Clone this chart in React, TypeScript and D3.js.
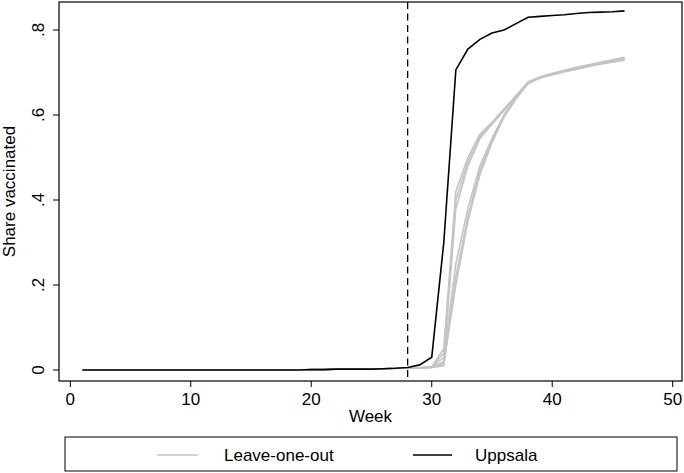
import * as d3 from 'd3';

const weeks = d3.range(1, 47);

// weeks 1-27, shared by all series (lines overlap before the cutoff)
const early = [
  0, 0, 0, 0, 0, 0, 0, 0, 0, 0, 0, 0, 0, 0, 0, 0, 0, 0, 0, 0.001, 0.001, 0.002,
  0.002, 0.002, 0.002, 0.003, 0.004,
];

// weeks 28-46
const uppsalaLate = [
  0.006, 0.012, 0.03, 0.3, 0.706, 0.755, 0.778, 0.793, 0.8, 0.815, 0.83, 0.832,
  0.834, 0.836, 0.839, 0.841, 0.842, 0.843, 0.845,
];

const leaveOneOutLate = [
  [0.004, 0.005, 0.007, 0.04, 0.4, 0.49, 0.55, 0.58, 0.612, 0.645, 0.677, 0.688, 0.695, 0.702, 0.708, 0.714, 0.72, 0.725, 0.73],
  [0.004, 0.005, 0.006, 0.02, 0.38, 0.48, 0.545, 0.578, 0.61, 0.643, 0.676, 0.689, 0.697, 0.704, 0.71, 0.716, 0.722, 0.727, 0.733],
  [0.004, 0.005, 0.008, 0.05, 0.42, 0.5, 0.555, 0.583, 0.614, 0.646, 0.678, 0.69, 0.698, 0.705, 0.712, 0.718, 0.724, 0.73, 0.736],
  [0.004, 0.005, 0.006, 0.01, 0.22, 0.36, 0.47, 0.54, 0.598, 0.64, 0.675, 0.688, 0.696, 0.703, 0.709, 0.715, 0.721, 0.726, 0.731],
  [0.004, 0.005, 0.007, 0.03, 0.25, 0.38, 0.48, 0.545, 0.6, 0.642, 0.676, 0.689, 0.697, 0.704, 0.71, 0.716, 0.722, 0.728, 0.734],
  [0.004, 0.005, 0.006, 0.015, 0.2, 0.35, 0.46, 0.535, 0.595, 0.638, 0.674, 0.687, 0.695, 0.702, 0.708, 0.714, 0.72, 0.725, 0.729],
];

const xTicks = [0, 10, 20, 30, 40, 50];
const yTicks = [0, 0.2, 0.4, 0.6, 0.8];
const yTickLabels = ['0', '.2', '.4', '.6', '.8'];
const cutoffWeek = 28;

const W = 684;
const H = 473;
const frame = { left: 59, right: 682, top: 2, bottom: 381 };
const font = 'Arial, "Liberation Sans", sans-serif';
const fs = 17;

export default function App() {
  const x = d3.scaleLinear([0, 50], [70.3, 672.7]);
  const y = d3.scaleLinear([0, 0.8], [370, 30]);

  const line = d3
    .line<number>()
    .x((_, i) => x(weeks[i]))
    .y((d) => y(d));

  const uppsala = [...early, ...uppsalaLate];
  const loo = leaveOneOutLate.map((s) => [...early, ...s]);

  return (
    <svg
      width={W}
      height={H}
      style={{ position: 'absolute', left: 0, top: 0, background: '#fff' }}
      fontFamily={font}
    >
      <rect x={0} y={0} width={W} height={H} fill='#fff' />

      {loo.map((s, i) => (
        <path key={i} d={line(s) ?? ''} fill='none' stroke='#c4c4c4' strokeWidth={1.6} />
      ))}
      <path d={line(uppsala) ?? ''} fill='none' stroke='#000' strokeWidth={1.6} />

      <line
        x1={x(cutoffWeek)}
        x2={x(cutoffWeek)}
        y1={frame.top}
        y2={frame.bottom}
        stroke='#000'
        strokeWidth={1.3}
        strokeDasharray='7,4.5'
      />

      <rect
        x={frame.left}
        y={frame.top}
        width={frame.right - frame.left}
        height={frame.bottom - frame.top}
        fill='none'
        stroke='#000'
        strokeWidth={1.2}
      />

      {/* x axis */}
      {xTicks.map((t) => (
        <g key={t}>
          <line x1={x(t)} x2={x(t)} y1={frame.bottom} y2={frame.bottom + 6} stroke='#000' />
          <text x={x(t)} y={frame.bottom + 24} textAnchor='middle' fontSize={fs}>
            {t}
          </text>
        </g>
      ))}
      <text x={(frame.left + frame.right) / 2} y={422} textAnchor='middle' fontSize={fs}>
        Week
      </text>

      {/* y axis */}
      {yTicks.map((t, i) => (
        <g key={t}>
          <line x1={frame.left - 6} x2={frame.left} y1={y(t)} y2={y(t)} stroke='#000' />
          <text
            transform={`translate(${frame.left - 15},${y(t)}) rotate(-90)`}
            textAnchor='middle'
            fontSize={fs}
          >
            {yTickLabels[i]}
          </text>
        </g>
      ))}
      <text
        transform={`translate(15,${(frame.top + frame.bottom) / 2}) rotate(-90)`}
        textAnchor='middle'
        fontSize={fs}
      >
        Share vaccinated
      </text>

      {/* legend */}
      <rect x={65} y={437} width={612} height={34} fill='#fff' stroke='#000' strokeWidth={1} />
      <line x1={157} x2={198} y1={455} y2={455} stroke='#c4c4c4' strokeWidth={1.6} />
      <text x={224} y={461} fontSize={fs}>
        Leave-one-out
      </text>
      <line x1={413} x2={452} y1={455} y2={455} stroke='#000' strokeWidth={1.6} />
      <text x={475} y={461} fontSize={fs}>
        Uppsala
      </text>
    </svg>
  );
}
